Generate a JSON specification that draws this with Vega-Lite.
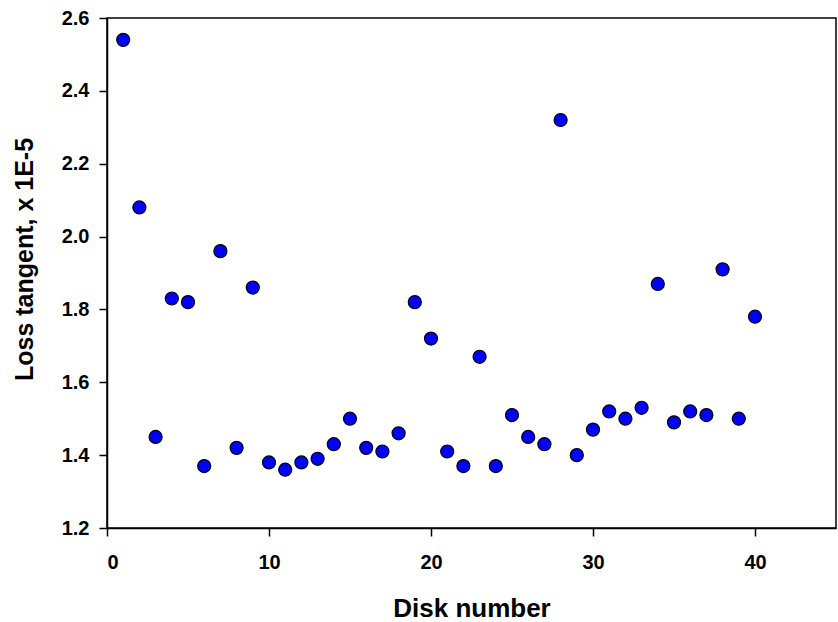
{
  "$schema": "https://vega.github.io/schema/vega-lite/v6.json",
  "width": 729,
  "height": 510,
  "autosize": {"type": "none"},
  "padding": {"left": 107, "top": 18, "right": 2, "bottom": 94},
  "background": "white",
  "config": {
    "view": {"stroke": "#000000", "strokeWidth": 1.5},
    "axis": {
      "domainColor": "#000000",
      "domainWidth": 1.5,
      "tickColor": "#000000",
      "tickWidth": 1.5,
      "tickSize": 8,
      "grid": false,
      "labelFont": "Liberation Sans",
      "labelFontWeight": "bold",
      "labelColor": "#000000",
      "titleFont": "Liberation Sans",
      "titleFontWeight": "bold",
      "titleColor": "#000000"
    }
  },
  "data": {
    "values": [
      {"disk": 1, "loss": 2.54},
      {"disk": 2, "loss": 2.08},
      {"disk": 3, "loss": 1.45},
      {"disk": 4, "loss": 1.83},
      {"disk": 5, "loss": 1.82},
      {"disk": 6, "loss": 1.37},
      {"disk": 7, "loss": 1.96},
      {"disk": 8, "loss": 1.42},
      {"disk": 9, "loss": 1.86},
      {"disk": 10, "loss": 1.38},
      {"disk": 11, "loss": 1.36},
      {"disk": 12, "loss": 1.38},
      {"disk": 13, "loss": 1.39},
      {"disk": 14, "loss": 1.43},
      {"disk": 15, "loss": 1.50},
      {"disk": 16, "loss": 1.42},
      {"disk": 17, "loss": 1.41},
      {"disk": 18, "loss": 1.46},
      {"disk": 19, "loss": 1.82},
      {"disk": 20, "loss": 1.72},
      {"disk": 21, "loss": 1.41},
      {"disk": 22, "loss": 1.37},
      {"disk": 23, "loss": 1.67},
      {"disk": 24, "loss": 1.37},
      {"disk": 25, "loss": 1.51},
      {"disk": 26, "loss": 1.45},
      {"disk": 27, "loss": 1.43},
      {"disk": 28, "loss": 2.32},
      {"disk": 29, "loss": 1.40},
      {"disk": 30, "loss": 1.47},
      {"disk": 31, "loss": 1.52},
      {"disk": 32, "loss": 1.50},
      {"disk": 33, "loss": 1.53},
      {"disk": 34, "loss": 1.87},
      {"disk": 35, "loss": 1.49},
      {"disk": 36, "loss": 1.52},
      {"disk": 37, "loss": 1.51},
      {"disk": 38, "loss": 1.91},
      {"disk": 39, "loss": 1.50},
      {"disk": 40, "loss": 1.78}
    ]
  },
  "mark": {
    "type": "point",
    "shape": "circle",
    "filled": true,
    "fill": "#0000FF",
    "stroke": "#000000",
    "strokeWidth": 1.2,
    "size": 170,
    "opacity": 1
  },
  "encoding": {
    "x": {
      "field": "disk",
      "type": "quantitative",
      "scale": {"domain": [0, 45], "nice": false, "zero": false},
      "axis": {
        "title": "Disk number",
        "values": [0, 10, 20, 30, 40],
        "labelFontSize": 20,
        "labelBaseline": "alphabetic",
        "labelPadding": 32,
        "titleFontSize": 26,
        "titleBaseline": "alphabetic",
        "titleY": 88
      }
    },
    "y": {
      "field": "loss",
      "type": "quantitative",
      "scale": {"domain": [1.2, 2.6], "nice": false, "zero": false},
      "axis": {
        "title": "Loss tangent, x 1E-5",
        "values": [1.2, 1.4, 1.6, 1.8, 2.0, 2.2, 2.4, 2.6],
        "format": ".1f",
        "labelFontSize": 20,
        "labelPadding": 10,
        "titleFontSize": 25,
        "titleAngle": 270,
        "titleAlign": "center",
        "titleBaseline": "middle",
        "titleX": -83,
        "titleY": 241
      }
    }
  }
}
